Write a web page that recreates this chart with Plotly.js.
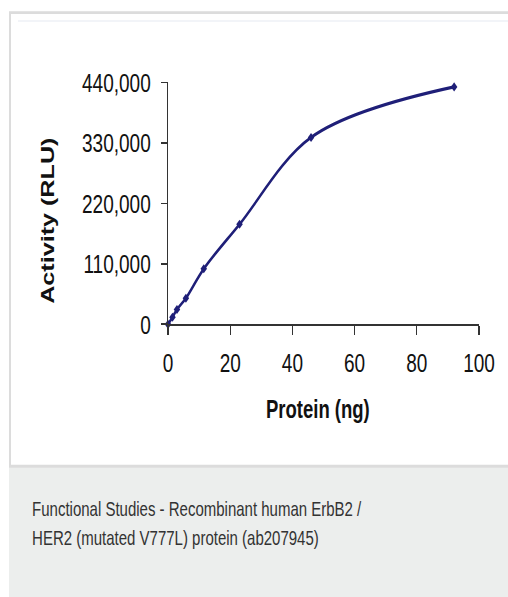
<!DOCTYPE html>
<html>
<head>
<meta charset="utf-8">
<script src="https://cdn.plot.ly/plotly-3.0.1.min.js"></script>
<style>
  html { margin: 0; padding: 0; background: #ffffff; overflow: hidden; width: 508px; height: 597px; }
  body { margin: 0; padding: 0; background: #ffffff; width: 508px; height: 597px; }
  #chart { width: 508px; height: 427px; transform: scaleY(1.398); transform-origin: 0 0; }
</style>
</head>
<body>
<div id="chart"></div>
<script>
// ---- data ----
const protein = [0, 1.44, 2.88, 5.75, 11.5, 23, 46, 92];               // ng
const activity = [0, 13000, 27000, 47500, 101000, 182000, 340000, 432000]; // RLU
const yTickVals = [0, 110000, 220000, 330000, 440000];
const xTickVals = [0, 20, 40, 60, 80, 100];
const xTitle = "Protein (ng)";
const yTitle = "Activity (RLU)";
const captionLines = [
  "Functional Studies - Recombinant human ErbB2 /",
  "HER2 (mutated V777L) protein (ab207945)"
];

// The reference picture is vertically stretched; the plot is drawn at a
// reduced height and stretched back by the CSS scaleY on #chart.
const S = 1.398;
const W = 508, H = 427;
const L = 168, R = 479, T = 82 / S, B = 324 / S;
const px = p => (p - L) / (R - L);
const py = p => (B - p / S) / (B - T);   // p given in final (stretched) pixels

const sans = "Liberation Sans, Arial, sans-serif";

const trace = {
  x: protein,
  y: activity,
  type: "scatter",
  mode: "lines+markers",
  line: { color: "#1f1f78", width: 2.2, shape: "spline", smoothing: 1 },
  marker: { symbol: "diamond", size: 5, color: "#1f1f78" },
  hoverinfo: "x+y",
  cliponaxis: false
};

const layout = {
  width: W, height: H,
  margin: { l: L, r: W - R, t: T, b: H - B, pad: 0 },
  paper_bgcolor: "#ffffff",
  plot_bgcolor: "rgba(0,0,0,0)",
  showlegend: false,
  xaxis: {
    range: [0, 100],
    tickvals: xTickVals,
    ticks: "outside", ticklen: 6, tickwidth: 1.2, tickcolor: "#333",
    showline: true, linecolor: "#333", linewidth: 1.5,
    showgrid: false, zeroline: false,
    tickfont: { family: sans, size: 19, color: "#111" },
    ticklabelstandoff: 4
  },
  yaxis: {
    range: [0, 440000],
    tickvals: yTickVals,
    tickformat: ",d",
    ticks: "outside", ticklen: 6, tickwidth: 1.2, tickcolor: "#333",
    showline: true, linecolor: "#333", linewidth: 1.5,
    showgrid: false, zeroline: false,
    tickfont: { family: sans, size: 19, color: "#111" },
    ticklabelstandoff: 6
  },
  shapes: [
    // caption band
    { type: "rect", xref: "paper", yref: "paper", layer: "below",
      x0: px(9), x1: px(530), y0: py(467), y1: py(620),
      fillcolor: "#eceeed", line: { width: 0 } },
    // card border
    { type: "rect", xref: "paper", yref: "paper", layer: "below",
      x0: px(10), x1: px(530), y0: py(466), y1: py(12),
      fillcolor: "rgba(0,0,0,0)", line: { color: "#dcdcdc", width: 2 } },
    // faint line under the top border
    { type: "line", xref: "paper", yref: "paper", layer: "below",
      x0: px(18), x1: px(530), y0: py(20.5), y1: py(20.5),
      line: { color: "#eef1f6", width: 1.2 } }
  ],
  annotations: [
    { text: xTitle, xref: "paper", yref: "paper", x: px(318), y: py(408),
      xanchor: "center", yanchor: "middle", showarrow: false,
      font: { family: sans, size: 18.5, color: "#111", weight: "bold" } },
    { text: yTitle, xref: "paper", yref: "paper", x: px(48), y: py(221),
      xanchor: "center", yanchor: "middle", showarrow: false, textangle: -90,
      font: { family: sans, size: 18, color: "#111", weight: "bold" } },
    { text: captionLines[0], xref: "paper", yref: "paper", x: px(30), y: py(508),
      xanchor: "left", yanchor: "middle", showarrow: false,
      font: { family: sans, size: 15, color: "#333" } },
    { text: captionLines[1], xref: "paper", yref: "paper", x: px(30), y: py(538),
      xanchor: "left", yanchor: "middle", showarrow: false,
      font: { family: sans, size: 15, color: "#333" } }
  ]
};

Plotly.newPlot("chart", [trace], layout, { displayModeBar: false, staticPlot: true });
</script>
</body>
</html>
